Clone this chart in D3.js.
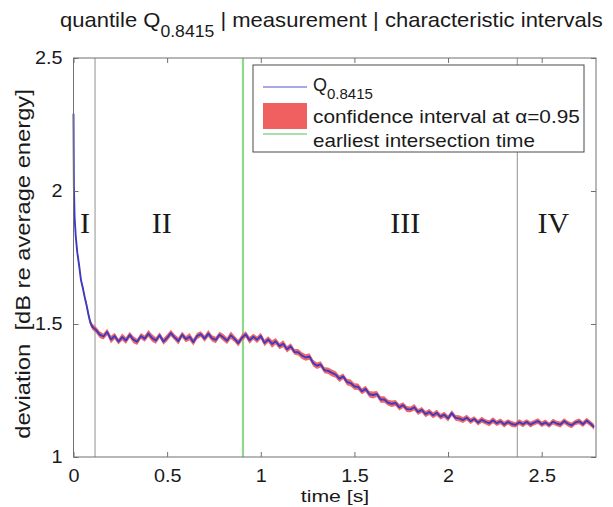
<!DOCTYPE html>
<html lang="en">
<head>
  <meta charset="UTF-8" />
  <title>Quantile Q0.8415 with characteristic intervals</title>
  <style>
    body {
      margin: 0;
      background: #fff;
    }
    svg {
      display: block;
      background: #fff;
    }
    text {
      font-family: "Liberation Sans", Arial, Helvetica, sans-serif;
      fill: #1a1a1a;
    }
    .roman {
      font-family: "Liberation Serif", "Times New Roman", serif;
    }
  </style>
</head>
<body>
  <script src="https://d3js.org/d3.v7.min.js"></script>
  <script>
    // --- data ---
    const xTicks = [0, 0.5, 1, 1.5, 2, 2.5];
    const yTicks = [1, 1.5, 2, 2.5];

    // steep start of the curve (irregular sample times)
    const earlyT = [0, 0.002, 0.006, 0.012, 0.02, 0.03, 0.04, 0.05, 0.06, 0.07, 0.08, 0.09, 0.10];
    const earlyQ = [2.29, 2.02, 1.90, 1.83, 1.77, 1.72, 1.665, 1.635, 1.60, 1.57, 1.535, 1.505, 1.49];
    const earlyCI = [0.005, 0.006, 0.007, 0.008, 0.009, 0.010, 0.010, 0.011, 0.011, 0.012, 0.012, 0.012, 0.012];

    // rest of the curve, one value every 0.02 s from 0.12 s to 2.78 s
    const mainStart = 0.12, mainStep = 0.02;
    const mainQ = [
      1.478, 1.460, 1.453, 1.470, 1.442, 1.455, 1.434, 1.451, 1.438, 1.459,
      1.441, 1.433, 1.455, 1.445, 1.464, 1.447, 1.438, 1.458, 1.434, 1.448,
      1.466, 1.450, 1.436, 1.460, 1.443, 1.452, 1.432, 1.455, 1.462, 1.445,
      1.464, 1.446, 1.440, 1.460, 1.449, 1.437, 1.458, 1.444, 1.428, 1.449,
      1.461, 1.439, 1.452, 1.441, 1.455, 1.429, 1.442, 1.425, 1.435, 1.417,
      1.426, 1.405, 1.416, 1.395, 1.394, 1.381, 1.374, 1.378, 1.353, 1.343,
      1.348, 1.326, 1.324, 1.316, 1.310, 1.294, 1.303, 1.282, 1.278, 1.265,
      1.264, 1.247, 1.256, 1.236, 1.233, 1.237, 1.216, 1.216, 1.204, 1.200,
      1.203, 1.187, 1.195, 1.180, 1.179, 1.187, 1.169, 1.177, 1.161, 1.169,
      1.157, 1.166, 1.152, 1.159, 1.145, 1.165, 1.147, 1.145, 1.139, 1.148,
      1.135, 1.143, 1.129, 1.140, 1.132, 1.127, 1.138, 1.127, 1.134, 1.122,
      1.132, 1.124, 1.121, 1.131, 1.123, 1.132, 1.122, 1.129, 1.135, 1.123,
      1.130, 1.120, 1.133, 1.126, 1.122, 1.135, 1.125, 1.119, 1.130, 1.134,
      1.123, 1.137, 1.126, 1.113
    ];
    // half width of the confidence band at each point
    const mainCI = [
      0.012, 0.013, 0.011, 0.012, 0.014, 0.012, 0.011, 0.013, 0.012, 0.012,
      0.013, 0.012, 0.011, 0.012, 0.013, 0.014, 0.012, 0.011, 0.012, 0.013,
      0.012, 0.011, 0.013, 0.012, 0.012, 0.014, 0.013, 0.012, 0.011, 0.012,
      0.013, 0.012, 0.012, 0.011, 0.013, 0.012, 0.014, 0.012, 0.013, 0.012,
      0.012, 0.013, 0.011, 0.012, 0.012, 0.013, 0.012, 0.014, 0.012, 0.012,
      0.013, 0.012, 0.012, 0.011, 0.012, 0.013, 0.012, 0.012, 0.013, 0.012,
      0.012, 0.011, 0.012, 0.013, 0.012, 0.012, 0.011, 0.012, 0.013, 0.012,
      0.012, 0.011, 0.012, 0.012, 0.013, 0.011, 0.012, 0.012, 0.011, 0.012,
      0.011, 0.012, 0.011, 0.012, 0.011, 0.012, 0.011, 0.011, 0.012, 0.011,
      0.011, 0.012, 0.011, 0.011, 0.012, 0.011, 0.011, 0.012, 0.011, 0.011,
      0.011, 0.010, 0.011, 0.011, 0.010, 0.011, 0.011, 0.010, 0.011, 0.011,
      0.010, 0.011, 0.010, 0.011, 0.011, 0.010, 0.011, 0.010, 0.011, 0.010,
      0.011, 0.010, 0.011, 0.010, 0.011, 0.011, 0.010, 0.011, 0.010, 0.011,
      0.010, 0.011, 0.010, 0.011
    ];

    const boundaries = [0.115, 2.37];      // gray lines between intervals
    const intersection = 0.905;            // earliest intersection time
    const phaseNames = ["I", "II", "III", "IV"];
    const phaseAt = [0.061, 0.471, 1.772, 2.562];

    const legendLabels = ["confidence interval at \u03b1=0.95", "earliest intersection time"];

    // --- assemble points ---
    const points = earlyT.map((t, i) => ({ t: t, q: earlyQ[i], ci: earlyCI[i] }))
      .concat(mainQ.map((q, i) => ({ t: mainStart + i * mainStep, q: q, ci: mainCI[i] })));

    const width = 613;
    const height = 507;
    const plot = { left: 73.5, right: 596, top: 58, bottom: 457 };

    const svg = d3.select("body").append("svg")
      .attr("width", width)
      .attr("height", height);

    const x = d3.scaleLinear().domain([0, 2.79]).range([plot.left, plot.right]);
    const y = d3.scaleLinear().domain([1, 2.5]).range([plot.bottom, plot.top]);

    // horizontal stretch needed for a text to span a given width
    function fitWidth(textSel, target) {
      const w = textSel.node().getComputedTextLength();
      return target / w;
    }

    // vertical markers
    svg.append("g")
      .selectAll("line")
      .data(boundaries)
      .enter().append("line")
      .attr("x1", d => x(d)).attr("x2", d => x(d))
      .attr("y1", plot.top).attr("y2", plot.bottom)
      .attr("stroke", "#a3a3a3")
      .attr("stroke-width", 1.2);

    svg.append("line")
      .attr("x1", x(intersection)).attr("x2", x(intersection))
      .attr("y1", plot.top).attr("y2", plot.bottom)
      .attr("stroke", "#8fd68f")
      .attr("stroke-width", 2.2);

    // confidence band + quantile line
    const band = d3.area()
      .x(d => x(d.t))
      .y0(d => y(d.q - d.ci))
      .y1(d => y(d.q + d.ci));

    svg.append("path")
      .datum(points)
      .attr("d", band)
      .attr("fill", "#f05656")
      .attr("opacity", 0.9);

    svg.append("path")
      .datum(points)
      .attr("d", d3.line().x(d => x(d.t)).y(d => y(d.q)))
      .attr("fill", "none")
      .attr("stroke", "#3b3bc4")
      .attr("stroke-width", 1.9)
      .attr("stroke-linejoin", "round");

    // roman numerals for the intervals
    svg.append("g")
      .selectAll("text")
      .data(phaseNames)
      .enter().append("text")
      .attr("class", "roman")
      .attr("x", (d, i) => x(phaseAt[i]))
      .attr("y", 233)
      .attr("text-anchor", "middle")
      .attr("font-size", 30)
      .text(d => d);

    // axes
    const fmt = d3.format("~g");
    const gx = svg.append("g")
      .attr("transform", `translate(0,${plot.bottom})`)
      .call(d3.axisBottom(x).tickValues(xTicks).tickFormat(fmt)
        .tickSizeInner(-5).tickSizeOuter(0).tickPadding(12));
    const gy = svg.append("g")
      .attr("transform", `translate(${plot.left},0)`)
      .call(d3.axisLeft(y).tickValues(yTicks).tickFormat(fmt)
        .tickSizeInner(-5).tickSizeOuter(0).tickPadding(10));
    const gxTop = svg.append("g")
      .attr("transform", `translate(0,${plot.top})`)
      .call(d3.axisTop(x).tickValues(xTicks).tickFormat("")
        .tickSizeInner(-5).tickSizeOuter(0));
    const gyRight = svg.append("g")
      .attr("transform", `translate(${plot.right},0)`)
      .call(d3.axisRight(y).tickValues(yTicks).tickFormat("")
        .tickSizeInner(-5).tickSizeOuter(0));

    [gx, gy, gxTop, gyRight].forEach(g => {
      g.select(".domain").remove();
      g.selectAll("line").attr("stroke", "#6f6f6f");
      g.attr("font-size", 18).attr("font-family", null);
      g.selectAll("text").attr("fill", "#1a1a1a").attr("transform", "scale(1.1,1)");
    });

    svg.append("rect")
      .attr("x", plot.left).attr("y", plot.top)
      .attr("width", plot.right - plot.left)
      .attr("height", plot.bottom - plot.top)
      .attr("fill", "none")
      .attr("stroke", "#707070")
      .attr("stroke-width", 1);

    // title
    const titleG = svg.append("g");
    const title = titleG.append("text").attr("font-size", 20);
    title.append("tspan").text("quantile Q");
    title.append("tspan").attr("font-size", 16).attr("dy", 10).text("0.8415");
    title.append("tspan").attr("dy", -10).style("white-space", "pre")
      .text(" | measurement | characteristic intervals");
    titleG.attr("transform", `translate(60,27) scale(${fitWidth(title, 543)},1)`);

    // axis labels
    const xLabG = svg.append("g");
    xLabG.append("text").attr("font-size", 17).attr("text-anchor", "middle").text("time [s]");
    xLabG.attr("transform", `translate(335,502) scale(1.25,1)`);

    const yLabG = svg.append("g");
    const yLab = yLabG.append("text").attr("font-size", 20).attr("text-anchor", "middle")
      .style("white-space", "pre")
      .text("deviation  [dB re average energy]");
    yLabG.attr("transform", `translate(30,264) rotate(-90) scale(${fitWidth(yLab, 350)},1)`);

    // legend
    const leg = svg.append("g");
    leg.append("rect")
      .attr("x", 253).attr("y", 65)
      .attr("width", 331).attr("height", 87)
      .attr("fill", "#fff")
      .attr("stroke", "#4a4a4a")
      .attr("stroke-width", 1);
    leg.append("line")
      .attr("x1", 263).attr("x2", 307).attr("y1", 87).attr("y2", 87)
      .attr("stroke", "#5252d2").attr("stroke-width", 1.2);
    leg.append("rect")
      .attr("x", 263).attr("y", 103).attr("width", 44).attr("height", 26)
      .attr("fill", "#f06060");
    leg.append("line")
      .attr("x1", 263).attr("x2", 307).attr("y1", 134).attr("y2", 134)
      .attr("stroke", "#8fd68f").attr("stroke-width", 1.5);

    const q = leg.append("text").attr("x", 313).attr("y", 91).attr("font-size", 18);
    q.append("tspan").text("Q");
    q.append("tspan").attr("font-size", 15).attr("dy", 8).text("0.8415");

    const legTargets = [267, 222];
    const legBase = [123, 147];
    legendLabels.forEach((label, i) => {
      const g = leg.append("g");
      const t = g.append("text").attr("font-size", 18).text(label);
      g.attr("transform", `translate(313,${legBase[i]}) scale(${fitWidth(t, legTargets[i])},1)`);
    });
  </script>
</body>
</html>
